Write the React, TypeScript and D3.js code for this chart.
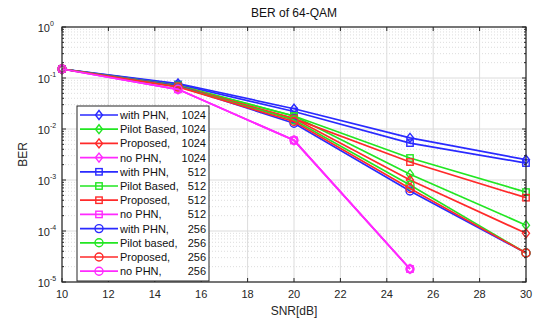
import React from "react";
import * as d3 from "d3";

const snr = [10, 15, 20, 25, 30];
const snrNoPhn = [10, 15, 20, 25];

const withPhn1024 = [0.15, 0.078, 0.025, 6.7e-3, 2.5e-3];
const pilot1024 = [0.15, 0.07, 0.018, 1.3e-3, 1.3e-4];
const proposed1024 = [0.15, 0.068, 0.016, 1.0e-3, 9e-5];
const noPhn1024 = [0.15, 0.06, 6e-3, 1.8e-5];
const withPhn512 = [0.15, 0.075, 0.022, 5.3e-3, 2.15e-3];
const pilot512 = [0.15, 0.072, 0.018, 2.7e-3, 5.8e-4];
const proposed512 = [0.15, 0.07, 0.016, 2.25e-3, 4.5e-4];
const noPhn512 = [0.15, 0.06, 6e-3, 1.8e-5];
const withPhn256 = [0.15, 0.07, 0.013, 6.1e-4, 3.7e-5];
const pilot256 = [0.15, 0.068, 0.015, 8e-4, 3.7e-5];
const proposed256 = [0.15, 0.067, 0.014, 6.8e-4, 3.7e-5];
const noPhn256 = [0.15, 0.06, 6e-3, 1.8e-5];

const legendNames = [
  "with PHN,", "Pilot Based,", "Proposed,", "no PHN,",
  "with PHN,", "Pilot Based,", "Proposed,", "no PHN,",
  "with PHN,", "Pilot based,", "Proposed,", "no PHN,",
];
const legendSizes = ["1024", "1024", "1024", "1024", "512", "512", "512", "512", "256", "256", "256", "256"];
const xTicks = [10, 12, 14, 16, 18, 20, 22, 24, 26, 28, 30];
const yExps = [0, -1, -2, -3, -4, -5];

const BLUE = "#2a2aff";
const GREEN = "#22e622";
const RED = "#ff2a2a";
const MAG = "#ff2aff";

type S = { x: number[]; y: number[]; color: string; marker: "d" | "s" | "o" };
const series: S[] = [
  { x: snr, y: withPhn1024, color: BLUE, marker: "d" },
  { x: snr, y: pilot1024, color: GREEN, marker: "d" },
  { x: snr, y: proposed1024, color: RED, marker: "d" },
  { x: snrNoPhn, y: noPhn1024, color: MAG, marker: "d" },
  { x: snr, y: withPhn512, color: BLUE, marker: "s" },
  { x: snr, y: pilot512, color: GREEN, marker: "s" },
  { x: snr, y: proposed512, color: RED, marker: "s" },
  { x: snrNoPhn, y: noPhn512, color: MAG, marker: "s" },
  { x: snr, y: withPhn256, color: BLUE, marker: "o" },
  { x: snr, y: pilot256, color: GREEN, marker: "o" },
  { x: snr, y: proposed256, color: RED, marker: "o" },
  { x: snrNoPhn, y: noPhn256, color: MAG, marker: "o" },
];

const L = 62, R = 526, T = 27, B = 282;
const FONT = "'Liberation Sans', Arial, sans-serif";

function Marker({ cx, cy, kind, color }: { cx: number; cy: number; kind: string; color: string }) {
  if (kind === "d")
    return <path d={`M${cx},${cy - 4.5}L${cx + 3.5},${cy}L${cx},${cy + 4.5}L${cx - 3.5},${cy}Z`} fill="none" stroke={color} strokeWidth={1.4} />;
  if (kind === "s")
    return <rect x={cx - 3.2} y={cy - 3.2} width={6.4} height={6.4} fill="none" stroke={color} strokeWidth={1.4} />;
  return <circle cx={cx} cy={cy} r={4} fill="none" stroke={color} strokeWidth={1.4} />;
}

export default function App() {
  const x = d3.scaleLinear().domain([10, 30]).range([L, R]);
  const y = d3.scaleLog().domain([1e-5, 1]).range([B, T]);
  const line = d3.line<[number, number]>().x((d) => x(d[0])).y((d) => y(d[1]));

  const minor: number[] = [];
  for (let e = -5; e < 0; e++) for (let m = 2; m <= 9; m++) minor.push(m * Math.pow(10, e));

  const lgX = 77, lgY = 106, lgW = 132, lgH = 175, rowH = 14.2, row0 = 115;

  return (
    <svg width={540} height={320} style={{ position: "absolute", left: 0, top: 0, background: "#fff" }} fontFamily={FONT}>
      <rect x={0} y={0} width={540} height={320} fill="#fff" />
      <rect x={L} y={T} width={R - L} height={B - T} fill="#fff" />
      {minor.map((v, i) => (
        <line key={"mg" + i} x1={L} x2={R} y1={y(v)} y2={y(v)} stroke="#d4d4d4" strokeWidth={0.8} strokeDasharray="1,2" />
      ))}
      {xTicks.map((t) => (
        <line key={"gx" + t} x1={x(t)} x2={x(t)} y1={T} y2={B} stroke="#dcdcdc" strokeWidth={1} />
      ))}
      {yExps.map((e) => (
        <line key={"gy" + e} x1={L} x2={R} y1={y(Math.pow(10, e))} y2={y(Math.pow(10, e))} stroke="#dcdcdc" strokeWidth={1} />
      ))}
      {series.map((s, i) => {
        const pts = s.x.map((v, j) => [v, s.y[j]] as [number, number]);
        return (
          <g key={"s" + i}>
            <path d={line(pts) || ""} fill="none" stroke={s.color} strokeWidth={1.7} />
            {pts.map((p, j) => (
              <Marker key={j} cx={x(p[0])} cy={y(p[1])} kind={s.marker} color={s.color} />
            ))}
          </g>
        );
      })}
      <rect x={L} y={T} width={R - L} height={B - T} fill="none" stroke="#262626" strokeWidth={1.2} />
      {xTicks.map((t) => (
        <g key={"tx" + t}>
          <line x1={x(t)} x2={x(t)} y1={B} y2={B - 4} stroke="#262626" />
          <line x1={x(t)} x2={x(t)} y1={T} y2={T + 4} stroke="#262626" />
          <text x={x(t)} y={298} fontSize={11} textAnchor="middle" fill="#262626">{t}</text>
        </g>
      ))}
      {yExps.map((e) => (
        <g key={"ty" + e}>
          <line x1={L} x2={L + 4} y1={y(Math.pow(10, e))} y2={y(Math.pow(10, e))} stroke="#262626" />
          <line x1={R} x2={R - 4} y1={y(Math.pow(10, e))} y2={y(Math.pow(10, e))} stroke="#262626" />
          <text x={L - 12} y={y(Math.pow(10, e)) + 5} fontSize={11} textAnchor="end" fill="#262626">10</text>
          <text x={L - 12} y={y(Math.pow(10, e)) - 1} fontSize={7} textAnchor="start" fill="#262626">{e}</text>
        </g>
      ))}
      {minor.map((v, i) => (
        <g key={"mt" + i}>
          <line x1={L} x2={L + 2} y1={y(v)} y2={y(v)} stroke="#262626" />
          <line x1={R} x2={R - 2} y1={y(v)} y2={y(v)} stroke="#262626" />
        </g>
      ))}
      <text x={(L + R) / 2} y={17} fontSize={12} textAnchor="middle" fill="#111">BER of 64-QAM</text>
      <text x={(L + R) / 2} y={315} fontSize={12} textAnchor="middle" fill="#262626">SNR[dB]</text>
      <text transform={`translate(27,${(T + B) / 2}) rotate(-90)`} fontSize={12} textAnchor="middle" fill="#262626">BER</text>
      <rect x={lgX} y={lgY} width={lgW} height={lgH} fill="#fff" stroke="#262626" strokeWidth={1} />
      {series.map((s, i) => {
        const ry = row0 + i * rowH;
        return (
          <g key={"lg" + i}>
            <line x1={80} x2={118} y1={ry} y2={ry} stroke={s.color} strokeWidth={1.7} />
            <Marker cx={99} cy={ry} kind={s.marker} color={s.color} />
            <text x={120} y={ry + 4} fontSize={11} fill="#111">{legendNames[i]}</text>
            <text x={206} y={ry + 4} fontSize={11} fill="#111" textAnchor="end">{legendSizes[i]}</text>
          </g>
        );
      })}
    </svg>
  );
}
